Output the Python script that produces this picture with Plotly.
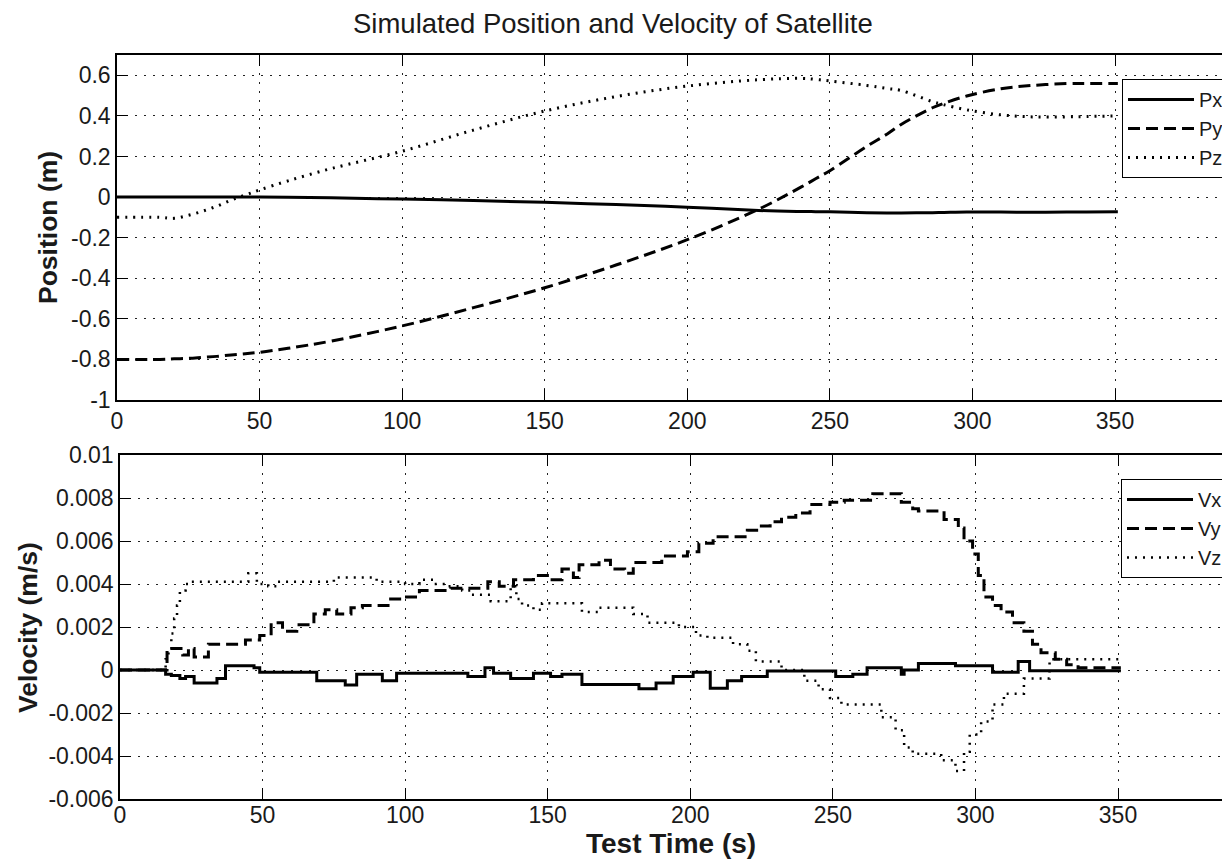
import plotly.graph_objects as go

# The page places the figure 8px from the window's top-left corner (body margin),
# so the figure is sized to fill the rest of the 1230x865 window.
OFF = 8
W, H = 1230 - OFF, 865 - OFF

# ---------------- data ----------------
# Position (smooth curves), time in s
pos_t = [0, 15, 20, 25, 30, 35, 40, 45, 50, 60, 75, 100, 125, 150, 175, 200, 225,
         240, 245, 250, 263, 270, 275, 286, 290, 298, 310, 321, 333, 340, 351]
px = [0, 0, 0, 0, 0, 0, 0, 0, 0, -0.001, -0.004, -0.010, -0.017, -0.026, -0.037, -0.050, -0.066,
      -0.071, -0.072, -0.073, -0.077, -0.078, -0.078, -0.077, -0.076, -0.074, -0.074, -0.075, -0.074, -0.074, -0.073]
py = [-0.80, -0.80, -0.797, -0.795, -0.79, -0.785, -0.778, -0.772, -0.765, -0.745, -0.71, -0.635, -0.545, -0.447, -0.335, -0.21, -0.06,
      0.05, 0.09, 0.13, 0.25, 0.31, 0.358, 0.44, 0.462, 0.498, 0.534, 0.55, 0.559, 0.56, 0.56]
pz = [-0.10, -0.10, -0.105, -0.09, -0.07, -0.045, -0.015, 0.01, 0.035, 0.08, 0.14, 0.226, 0.33, 0.424, 0.495, 0.547, 0.578,
      0.585, 0.58, 0.572, 0.55, 0.535, 0.525, 0.47, 0.455, 0.43, 0.405, 0.395, 0.395, 0.397, 0.40]

# Velocity (step data), value holds from t until next t
vx_t = [0, 16, 18, 21, 23, 26, 34, 37, 47, 49, 69, 79, 83, 92, 97, 122, 128, 131, 137, 145, 151, 155, 162,
        182, 188, 194, 201, 207, 213, 218, 227, 251, 257, 262, 274, 275, 280, 293, 306, 315, 319, 351]
vx = [0, -0.0002, -0.00025, -0.0004, -0.0003, -0.0006, -0.0004, 0.0002, 0.0001, -0.0001, -0.0005, -0.0007, -0.0002,
      -0.0005, -0.00015, -0.0003, 0.0001, -0.00015, -0.0004, -0.00015, -0.0003, -0.0002, -0.00068,
      -0.00087, -0.0006, -0.0003, -0.0001, -0.00085, -0.0005, -0.0003, -0.00005, -0.0003, -0.0002, 0.0001,
      -0.0002, 0.0, 0.0003, 0.0002, -0.0001, 0.0004, -0.00003, -0.00003]

vy_t = [0, 16.5, 22, 24, 26, 31, 37, 44, 49, 53, 57, 62, 68, 72, 76, 81, 85, 94, 99, 105, 116, 119, 129, 133,
        138, 145, 151, 155, 159, 161, 168, 172, 177, 180, 190, 199, 203, 208, 220, 224, 228, 232, 237, 242,
        249, 254, 264, 274, 278, 280, 289, 294, 296, 299, 301, 303, 306, 309, 313, 317, 320, 323, 328, 332, 336, 351]
vy = [0, 0.001, 0.0007, 0.001, 0.0006, 0.0012, 0.0012, 0.0014, 0.0016, 0.0022, 0.0018, 0.0021, 0.0026, 0.0028,
      0.0026, 0.0029, 0.003, 0.0033, 0.0034, 0.0037, 0.0038, 0.0038, 0.0041, 0.0039, 0.0042, 0.0044, 0.0042,
      0.0047, 0.0043, 0.0049, 0.0051, 0.0047, 0.0045, 0.005, 0.0053, 0.0055, 0.0059, 0.0062, 0.0065, 0.0067,
      0.0069, 0.0071, 0.0073, 0.0077, 0.0078, 0.0079, 0.0082, 0.0078, 0.0075, 0.0074, 0.007, 0.0066, 0.006,
      0.0054, 0.0044, 0.0034, 0.003, 0.0027, 0.0022, 0.0018, 0.0012, 0.0008, 0.0005, 0.00025, 0.0001, 0.0001]

vz_t = [0, 16, 17, 18, 19, 20, 21, 23, 25, 45, 48, 52, 55, 75, 90, 100, 105, 110, 115, 120, 123, 130, 137,
        139, 141, 145, 148, 162, 168, 180, 185, 196, 202, 206, 215, 220, 223, 227, 232, 240, 245, 249, 253,
        267, 272, 275, 278, 288, 293, 296, 298, 302, 306, 310, 317, 321, 326, 351]
vz = [0, 0.0005, 0.001, 0.0017, 0.0024, 0.003, 0.0037, 0.004, 0.0041, 0.0045, 0.004, 0.0039, 0.0041, 0.0043,
      0.0041, 0.004, 0.0042, 0.004, 0.0039, 0.0037, 0.0035, 0.0032, 0.0039, 0.0033, 0.003, 0.0028, 0.0031,
      0.0027, 0.0029, 0.0026, 0.0022, 0.002, 0.0016, 0.0015, 0.0012, 0.0009, 0.0004, 0.0004, 0.0, -0.0005,
      -0.0009, -0.0013, -0.0016, -0.0022, -0.0028, -0.0036, -0.0039, -0.0042, -0.0047, -0.0038, -0.003,
      -0.0024, -0.0016, -0.0011, -0.0004, -0.0004, 0.0005, 0.0005]

x_ticks = [0, 50, 100, 150, 200, 250, 300, 350]
x_ticktext = ["0", "50", "100", "150", "200", "250", "300", "350"]
pos_ticks = [-1, -0.8, -0.6, -0.4, -0.2, 0, 0.2, 0.4, 0.6]
pos_ticktext = ["-1", "-0.8", "-0.6", "-0.4", "-0.2", "0", "0.2", "0.4", "0.6"]
vel_ticks = [-0.006, -0.004, -0.002, 0, 0.002, 0.004, 0.006, 0.008, 0.01]
vel_ticktext = ["-0.006", "-0.004", "-0.002", "0", "0.002", "0.004", "0.006", "0.008", "0.01"]

# ---------------- styling ----------------
FONT = "Liberation Sans, Arial, sans-serif"
TXT = "#1a1a1a"
SOLID = dict(color="black", width=3, dash="solid")
DASHED = dict(color="black", width=3, dash="12px,6px")
DOTTED = dict(color="black", width=3, dash="2px,6px")

def px2x(p):  # window pixel -> paper x
    return (p - OFF) / W

def px2y(p):  # window pixel -> paper y
    return 1 - (p - OFF) / H

# plot-area boxes in window pixels
top_l, top_r, top_t, top_b = 117, 1230, 55, 400
bot_l, bot_r, bot_t, bot_b = 120, 1230, 455, 799
xscale = 998 / 350.0  # pixels per second

fig = go.Figure()

fig.add_trace(go.Scatter(x=pos_t, y=px, name="Px", mode="lines", line=dict(SOLID, shape="spline"),
                         xaxis="x", yaxis="y", legend="legend"))
fig.add_trace(go.Scatter(x=pos_t, y=py, name="Py", mode="lines", line=dict(DASHED, shape="spline"),
                         xaxis="x", yaxis="y", legend="legend"))
fig.add_trace(go.Scatter(x=pos_t, y=pz, name="Pz", mode="lines", line=dict(DOTTED, shape="spline"),
                         xaxis="x", yaxis="y", legend="legend"))

fig.add_trace(go.Scatter(x=vx_t, y=vx, name="Vx", mode="lines", line=dict(SOLID, shape="hv"),
                         xaxis="x2", yaxis="y2", legend="legend2"))
fig.add_trace(go.Scatter(x=vy_t, y=vy, name="Vy", mode="lines", line=dict(DASHED, shape="hv"),
                         xaxis="x2", yaxis="y2", legend="legend2"))
fig.add_trace(go.Scatter(x=vz_t, y=vz, name="Vz", mode="lines", line=dict(DOTTED, width=2.5, shape="hv"),
                         xaxis="x2", yaxis="y2", legend="legend2"))

grid = dict(showgrid=True, gridcolor="#222", gridwidth=1, griddash="2px,7px", zeroline=False)
tickfont = dict(family=FONT, size=23, color=TXT)

def xax(l, r, anchor, standoff):
    return dict(domain=[px2x(l), px2x(r)], range=[0, (r - l) / xscale], anchor=anchor,
                tickmode="array", tickvals=x_ticks, ticktext=x_ticktext, tickfont=tickfont,
                ticks="inside", ticklen=11, tickcolor="black", tickwidth=1,
                showline=True, linecolor="black", linewidth=1.5, mirror="ticks",
                automargin=False, ticklabelstandoff=standoff, **grid)

def yax(t, b, rng, vals, text, anchor):
    return dict(domain=[px2y(b), px2y(t)], range=rng, anchor=anchor,
                tickmode="array", tickvals=vals, ticktext=text, tickfont=tickfont,
                ticks="inside", ticklen=11, tickcolor="black", tickwidth=1,
                showline=True, linecolor="black", linewidth=1.5, mirror=False,
                automargin=False, **grid)

def yright(rng, vals, over, anchor):
    return dict(overlaying=over, side="right", anchor=anchor, range=rng, tickmode="array",
                tickvals=vals, ticks="inside", ticklen=11, tickcolor="black", tickwidth=1,
                showticklabels=False, showgrid=False, showline=False, zeroline=False)

legend_style = dict(xanchor="left", yanchor="top", bgcolor="white", bordercolor="black", borderwidth=1,
                    font=dict(family=FONT, size=20, color=TXT), tracegroupgap=0, itemwidth=66)

fig.update_layout(
    width=W, height=H,
    margin=dict(l=0, r=0, t=0, b=0, autoexpand=False),
    paper_bgcolor="white", plot_bgcolor="white",
    font=dict(family=FONT, size=23, color=TXT),
    xaxis=xax(top_l, top_r, "y", 0),
    yaxis=yax(top_t, top_b, [-1, 0.7], pos_ticks, pos_ticktext, "x"),
    xaxis2=xax(bot_l, bot_r, "y2", -5),
    yaxis2=yax(bot_t, bot_b, [-0.006, 0.01], vel_ticks, vel_ticktext, "x2"),
    yaxis3=yright([-1, 0.7], pos_ticks, "y", "x"),
    yaxis4=yright([-0.006, 0.01], vel_ticks, "y2", "x2"),
    legend=dict(x=px2x(1122), y=px2y(79), **legend_style),
    legend2=dict(x=px2x(1121), y=px2y(479), **legend_style),
    showlegend=True,
)

ann = [
    dict(text="Simulated Position and Velocity of Satellite", x=px2x(613), y=px2y(24),
         font=dict(family=FONT, size=27.5, color=TXT)),
    dict(text="<b>Test Time (s)</b>", x=px2x(671), y=px2y(843),
         font=dict(family=FONT, size=28, color=TXT)),
    dict(text="<b>Position (m)</b>", x=px2x(48), y=px2y(228), textangle=-90,
         font=dict(family=FONT, size=26.5, color=TXT)),
    dict(text="<b>Velocity (m/s)</b>", x=px2x(28), y=px2y(628), textangle=-90,
         font=dict(family=FONT, size=26.5, color=TXT)),
]
for a in ann:
    fig.add_annotation(xref="paper", yref="paper", xanchor="center", yanchor="middle",
                       showarrow=False, **a)

fig.write_html("out.html")
